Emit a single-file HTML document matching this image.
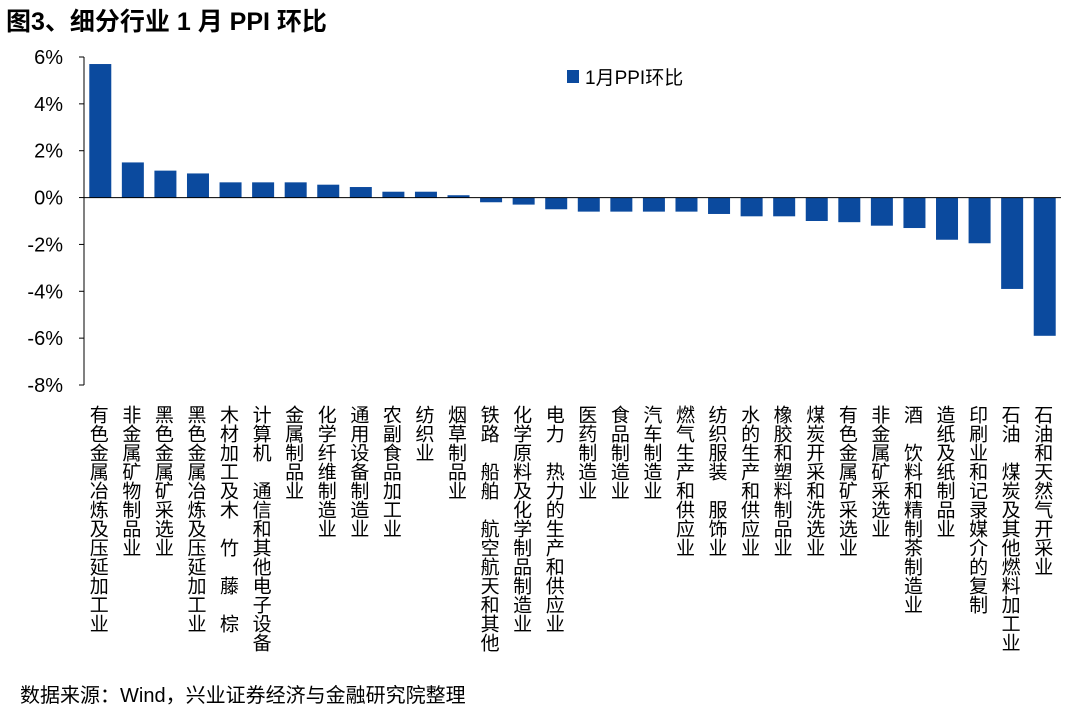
<!DOCTYPE html>
<html><head><meta charset="utf-8">
<style>
body{margin:0;width:1080px;height:711px;background:#fff;overflow:hidden;font-family:"Liberation Sans","Noto Sans CJK SC",sans-serif;}
#title{position:absolute;left:6px;top:2px;font-size:25px;font-weight:bold;color:#000;}
#src{position:absolute;left:20px;top:679px;font-size:20px;color:#000;}
svg{position:absolute;left:0;top:0;}
.lab{font-size:19px;fill:#000;writing-mode:vertical-rl;font-family:"Liberation Sans","Noto Sans CJK SC",sans-serif;}
</style></head><body>
<div id="title">图3、细分行业 1 月 PPI 环比</div>
<svg id="chart" width="1080" height="711"></svg>
<div id="src">数据来源：Wind，兴业证券经济与金融研究院整理</div>
<script>
const categories=["有色金属冶炼及压延加工业","非金属矿物制品业","黑色金属矿采选业","黑色金属冶炼及压延加工业","木材加工及木　竹　藤　棕","计算机　通信和其他电子设备","金属制品业","化学纤维制造业","通用设备制造业","农副食品加工业","纺织业","烟草制品业","铁路　船舶　航空航天和其他","化学原料及化学制品制造业","电力　热力的生产和供应业","医药制造业","食品制造业","汽车制造业","燃气生产和供应业","纺织服装　服饰业","水的生产和供应业","橡胶和塑料制品业","煤炭开采和洗选业","有色金属矿采选业","非金属矿采选业","酒　饮料和精制茶制造业","造纸及纸制品业","印刷业和记录媒介的复制","石油　煤炭及其他燃料加工业","石油和天然气开采业"];
const values=[5.7,1.5,1.15,1.03,0.65,0.65,0.65,0.55,0.45,0.25,0.25,0.1,-0.2,-0.3,-0.5,-0.6,-0.6,-0.6,-0.6,-0.7,-0.8,-0.8,-1.0,-1.05,-1.2,-1.3,-1.8,-1.95,-3.9,-5.9];
const ticks=[6,4,2,0,-2,-4,-6,-8];
const NS="http://www.w3.org/2000/svg";
const svg=document.getElementById('chart');
const x0=84,x1=1061,yTop=57,yBot=385,vMax=6,vMin=-8;
const y=v=>yTop+(vMax-v)/(vMax-vMin)*(yBot-yTop);
const step=(x1-x0)/categories.length;
const xc=i=>x0+step*(i+0.5);
function mk(t,a){const e=document.createElementNS(NS,t);for(const k in a)e.setAttribute(k,a[k]);svg.appendChild(e);return e;}
let ax=mk('line',{x1:x0,y1:yTop,x2:x0,y2:yBot,stroke:'#000','stroke-width':1});


ticks.forEach(t=>{
 const l=mk('line',{x1:x0-5,x2:x0,y1:y(t),y2:y(t),stroke:'#000'});
 
 
 const tx=mk('text',{x:x0-21,y:y(t)+7,'text-anchor':'end','font-size':20,fill:'#000'});
 tx.textContent=t+'%';
 
 
});
const bw=22;
values.forEach((v,i)=>{
 const r=mk('rect',{x:xc(i)-bw/2,y:Math.min(y(v),y(0)),width:bw,height:Math.abs(y(v)-y(0)),fill:'#0b4a9e'});
 
 
 const t=mk('text',{x:xc(i)-3,y:405,class:'lab'});
 t.textContent=categories[i];
 
 
});
let zl=mk('line',{x1:x0,x2:x1,y1:y(0),y2:y(0),stroke:'#000'});


let ls=mk('rect',{x:567,y:70,width:12,height:13,fill:'#0b4a9e'});


let lt=mk('text',{x:585,y:84,'font-size':19,fill:'#000'});
lt.textContent='1月PPI环比';


</script>
</body></html>
